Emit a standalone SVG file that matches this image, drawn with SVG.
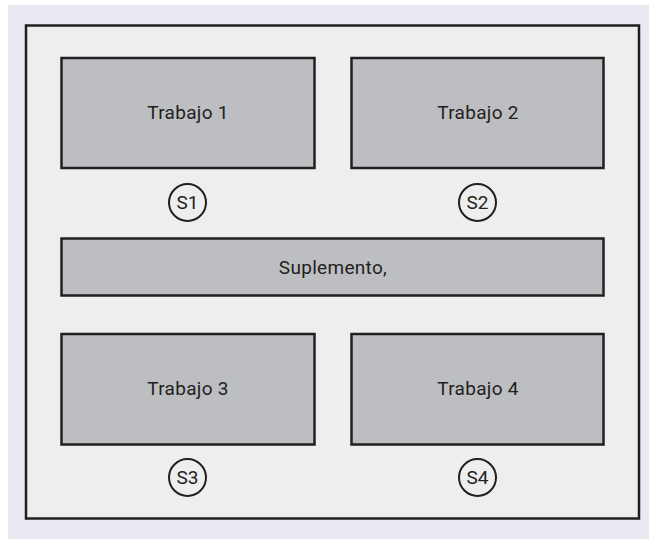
<svg xmlns="http://www.w3.org/2000/svg" width="649" height="539" viewBox="0 0 649 539">
<style>
.box{fill:#bdbec2;stroke:#231f20;stroke-width:2.5}
.lbl{font-family:Roboto,"Noto Sans",sans-serif;font-size:19px;fill:#231f20;text-anchor:middle;letter-spacing:0.3px}
.sc{fill:none;stroke:#231f20;stroke-width:2}
.st{font-family:Roboto,"Noto Sans",sans-serif;font-size:19px;fill:#231f20;text-anchor:middle}
</style>
<rect x="0" y="0" width="649" height="539" fill="#ffffff"/>
<rect x="8" y="5" width="641" height="534" fill="#e9e9f3"/>
<rect id="frame" x="26" y="25.5" width="613" height="493" fill="#eeeeee" stroke="#231f20" stroke-width="2.5"/>
<g id="trabajo1"><rect class="box" x="61.5" y="58" width="253" height="110"/><text class="lbl" x="188" y="119">Trabajo 1</text></g>
<g id="trabajo2"><rect class="box" x="351.5" y="58" width="252" height="110"/><text class="lbl" x="478" y="119">Trabajo 2</text></g>
<g id="suplemento"><rect class="box" x="61.5" y="238.5" width="542" height="57"/><text class="lbl" x="333" y="273.5">Suplemento,</text></g>
<g id="trabajo3"><rect class="box" x="61.5" y="334" width="253" height="110.5"/><text class="lbl" x="188" y="395">Trabajo 3</text></g>
<g id="trabajo4"><rect class="box" x="351.5" y="334" width="252" height="110.5"/><text class="lbl" x="478" y="395">Trabajo 4</text></g>
<g id="s1"><circle class="sc" cx="187.5" cy="202.5" r="18.5"/><text class="st" x="187.5" y="209">S1</text></g>
<g id="s2"><circle class="sc" cx="477.5" cy="202.5" r="18.5"/><text class="st" x="477.5" y="209">S2</text></g>
<g id="s3"><circle class="sc" cx="187.5" cy="477.5" r="18.5"/><text class="st" x="187.5" y="484">S3</text></g>
<g id="s4"><circle class="sc" cx="477.5" cy="477.5" r="18.5"/><text class="st" x="477.5" y="484">S4</text></g>
<g id="connectors"></g>
</svg>
